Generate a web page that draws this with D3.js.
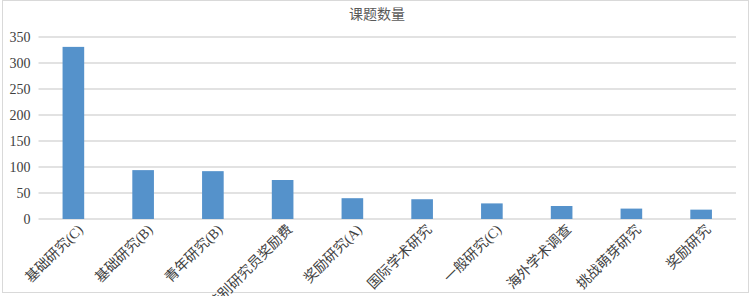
<!DOCTYPE html>
<html lang="en">
<head>
<meta charset="UTF-8">
<title>课题数量</title>
<script src="https://d3js.org/d3.v7.min.js"></script>
<style>
    body { margin: 0; background: #fff; }
    svg { display: block; }
    .lbl { font-family: "Times New Roman", "Liberation Serif", "Noto Sans CJK SC", serif; }
</style>
</head>
<body>
<div id="chart"></div>
<script>
const width = 749;
const height = 296;

// data
const categories = ["基础研究(C)", "基础研究(B)", "青年研究(B)", "特别研究员奖励费", "奖励研究(A)",
                    "国际学术研究", "一般研究(C)", "海外学术调查", "挑战萌芽研究", "奖励研究"];
const counts = [331, 94, 92, 75, 40, 38, 30, 25, 20, 18];
const yTicks = [0, 50, 100, 150, 200, 250, 300, 350];
const title = "课题数量";

const margin = { top: 37, right: 13, bottom: 77, left: 38.5 };
const innerW = width - margin.left - margin.right;
const innerH = height - margin.top - margin.bottom;

const svg = d3.select("#chart").append("svg")
    .attr("width", width)
    .attr("height", height);

// chart frame
svg.append("rect")
    .attr("x", 2.5).attr("y", 0.5)
    .attr("width", width - 3).attr("height", 292)
    .attr("fill", "none")
    .attr("stroke", "#d9d9d9");

svg.append("text")
    .attr("class", "lbl")
    .attr("x", 377).attr("y", 19)
    .attr("text-anchor", "middle")
    .attr("fill", "#595959")
    .style("font-size", "14px")
    .text(title);

const g = svg.append("g").attr("transform", `translate(${margin.left},${margin.top})`);

const x = d3.scaleBand().domain(categories).range([0, innerW]).paddingInner(0.69).paddingOuter(0.345);
const y = d3.scaleLinear().domain([0, 350]).range([innerH, 0]);

// gridlines
g.append("g")
    .selectAll("line")
    .data(yTicks)
    .join("line")
    .attr("x1", 0).attr("x2", innerW)
    .attr("y1", d => y(d)).attr("y2", d => y(d))
    .attr("stroke", "#d9d9d9")
    .attr("stroke-width", 1.3);

// y labels
g.append("g")
    .selectAll("text")
    .data(yTicks)
    .join("text")
    .attr("class", "lbl")
    .attr("x", -8)
    .attr("y", d => y(d))
    .attr("dy", "0.35em")
    .attr("text-anchor", "end")
    .attr("fill", "#404040")
    .style("font-size", "14px")
    .text(d => d);

// bars
g.append("g")
    .selectAll("rect")
    .data(counts)
    .join("rect")
    .attr("x", (d, i) => x(categories[i]))
    .attr("y", d => y(d))
    .attr("width", x.bandwidth())
    .attr("height", d => innerH - y(d))
    .attr("fill", "#5592cb");

// x labels, rotated
g.append("g")
    .selectAll("text")
    .data(categories)
    .join("text")
    .attr("class", "lbl")
    .attr("transform", d => `translate(${x(d) + x.bandwidth() / 2 + 7},${innerH + 8}) rotate(-45)`)
    .attr("text-anchor", "end")
    .attr("dy", "0.35em")
    .attr("fill", "#404040")
    .style("font-size", "14px")
    .text(d => d);
</script>
</body>
</html>
